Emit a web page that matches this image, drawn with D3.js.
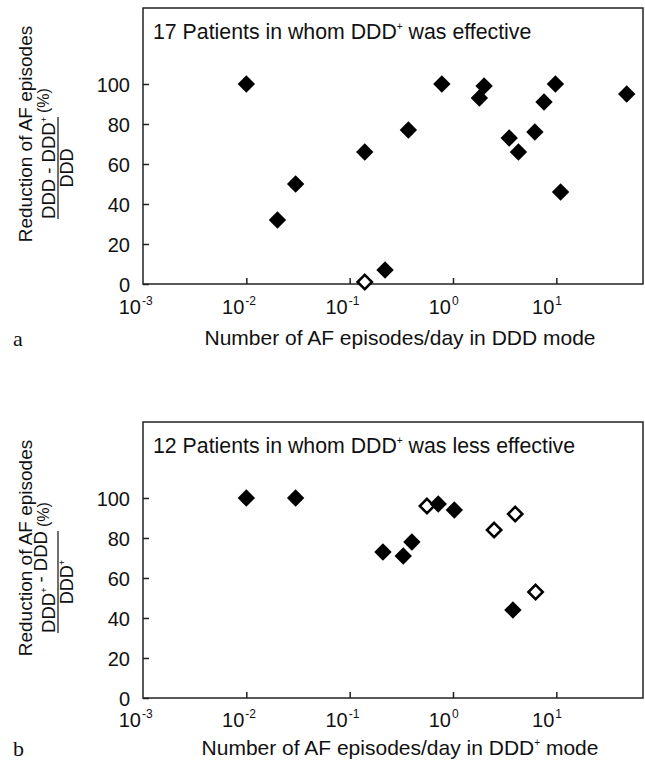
<!DOCTYPE html>
<html>
<head>
<meta charset="utf-8">
<script src="https://cdnjs.cloudflare.com/ajax/libs/d3/7.8.5/d3.min.js"></script>
<style>
  body { margin: 0; background: #fff; }
  svg text { font-family: "Liberation Sans", Arial, sans-serif; fill: #111; }
</style>
</head>
<body>
<div id="chart"></div>
<script>
// Panel a: 17 patients in whom DDD+ was effective
var effEpisodes  = [0.01, 0.02, 0.03, 0.14, 0.14, 0.22, 0.37, 0.78, 1.8, 2.0, 3.5, 4.3, 6.2, 7.6, 9.8, 11, 48];
var effReduction = [100, 32, 50, 66, 1, 7, 77, 100, 93, 99, 73, 66, 76, 91, 100, 46, 95];
var effOpen      = [0, 0, 0, 0, 1, 0, 0, 0, 0, 0, 0, 0, 0, 0, 0, 0, 0];

// Panel b: 12 patients in whom DDD+ was less effective
var lessEpisodes  = [0.01, 0.03, 0.21, 0.33, 0.40, 0.56, 0.72, 1.03, 2.5, 4.0, 3.8, 6.3];
var lessReduction = [100, 100, 73, 71, 78, 96, 97, 94, 84, 92, 44, 53];
var lessOpen      = [0, 0, 0, 0, 0, 1, 0, 0, 1, 1, 0, 1];

// Tick values
var yTicks = [0, 20, 40, 60, 80, 100];
var xTickExponents = [-3, -2, -1, 0, 1];

// SVG container
var svgWidth = 645;
var svgHeight = 767;
var plotLeft = 143;
var plotRight = 643;
var plotHeight = 276;

var svg = d3.select("#chart").append("svg")
  .attr("width", svgWidth)
  .attr("height", svgHeight);

// shared log x scale
var xScale = d3.scaleLog()
  .domain([1e-3, 69])
  .range([plotLeft, plotRight]);

function diamond(cx, cy, r) {
  return `M${cx},${cy - r}L${cx + r},${cy}L${cx},${cy + r}L${cx - r},${cy}Z`;
}

function drawPanel(p) {
  var bottom = p.top + plotHeight;
  var yScale = d3.scaleLinear()
    .domain([0, 138])
    .range([bottom, p.top]);

  var g = svg.append("g");

  // y axis, ticks pointing inward
  g.append("g")
    .attr("transform", `translate(${plotLeft},0)`)
    .call(d3.axisLeft(yScale).tickValues(yTicks).tickSize(-6).tickPadding(13).tickFormat(d3.format("d")))
    .call(a => a.select(".domain").remove())
    .attr("font-family", null)
    .attr("font-size", null)
    .call(a => a.selectAll("line").attr("stroke", "#222").attr("stroke-width", 1.5))
    .call(a => a.selectAll("text").style("font-size", "20px").attr("dy", "0.36em"));

  // x axis, ticks only
  g.append("g")
    .attr("transform", `translate(0,${bottom})`)
    .call(d3.axisBottom(xScale).tickValues(xTickExponents.slice(1).map(e => Math.pow(10, e))).tickSize(-6).tickFormat(""))
    .call(a => a.select(".domain").remove())
    .call(a => a.selectAll("line").attr("stroke", "#222").attr("stroke-width", 1.5));

  // x tick labels with superscript exponents
  xTickExponents.forEach(function(e) {
    var tx = xScale(Math.pow(10, e));
    g.append("text")
      .attr("x", tx - 2)
      .attr("y", bottom + p.tickLabelDy)
      .attr("text-anchor", "end")
      .style("font-size", "20px")
      .text("10");
    g.append("text")
      .attr("x", tx - 1)
      .attr("y", bottom + p.tickLabelDy - 9)
      .style("font-size", "12px")
      .text(e);
  });

  // frame
  g.append("rect")
    .attr("x", plotLeft)
    .attr("y", p.top)
    .attr("width", plotRight - plotLeft)
    .attr("height", plotHeight)
    .attr("fill", "none")
    .attr("stroke", "#222")
    .attr("stroke-width", 1.5);

  // panel title
  var t = g.append("text")
    .attr("x", 153)
    .attr("y", p.top + 31)
    .style("font-size", "21.3px");
  t.append("tspan").text(p.titleA);
  t.append("tspan").attr("dy", -9).style("font-size", "10px").text("+");
  t.append("tspan").attr("dy", 9).text(p.titleB);

  // points
  var pts = p.xs.map((x, i) => ({x: x, y: p.ys[i], open: p.open[i]}));
  g.selectAll("path.pt")
    .data(pts)
    .enter()
    .append("path")
    .attr("class", "pt")
    .attr("d", d => diamond(xScale(d.x), yScale(d.y), d.open ? 7.2 : 8.7))
    .attr("fill", d => d.open ? "#fff" : "#000")
    .attr("stroke", d => d.open ? "#000" : "none")
    .attr("stroke-width", 2.5);

  // y axis title, rotated
  var cy = p.top + plotHeight / 2;
  var yl = g.append("g").attr("transform", `translate(0,${cy}) rotate(-90)`);
  yl.append("text")
    .attr("x", 12)
    .attr("y", 32)
    .attr("text-anchor", "middle")
    .style("font-size", "19px")
    .text("Reduction of AF episodes");

  var num = yl.append("text")
    .attr("x", -22)
    .attr("y", 55)
    .attr("text-anchor", "middle")
    .style("font-size", "18.5px");
  p.numerator.forEach(function(s) {
    if (s === "+") {
      num.append("tspan").attr("dy", -8).style("font-size", "9px").text("+");
      num.append("tspan").attr("dy", 8).text("");
    } else {
      num.append("tspan").text(s);
    }
  });
  var len = num.node().getComputedTextLength();
  yl.append("line")
    .attr("x1", -22 - len / 2)
    .attr("x2", -22 + len / 2)
    .attr("y1", 58)
    .attr("y2", 58)
    .attr("stroke", "#222")
    .attr("stroke-width", 1.3);

  var den = yl.append("text")
    .attr("x", -22)
    .attr("y", 73)
    .attr("text-anchor", "middle")
    .style("font-size", "18px");
  den.append("tspan").text("DDD");
  if (p.denPlus) {
    den.append("tspan").attr("dy", -8).style("font-size", "9px").text("+");
  }

  yl.append("text")
    .attr("x", -22 + len / 2 + 4)
    .attr("y", 49)
    .style("font-size", "16px")
    .text("(%)");

  // x axis title and panel letter
  g.append("text")
    .attr("x", 400)
    .attr("y", p.xlabelY)
    .attr("text-anchor", "middle")
    .style("font-size", "21px")
    .call(function(tx) {
      tx.append("tspan").text("Number of AF episodes/day in DDD");
      if (p.xlabelPlus) {
        tx.append("tspan").attr("dy", -9).style("font-size", "10px").text("+");
        tx.append("tspan").attr("dy", 9).text(" mode");
      } else {
        tx.append("tspan").text(" mode");
      }
    });

  g.append("text")
    .attr("x", 13)
    .attr("y", p.xlabelY + 1)
    .style("font-family", "'Liberation Serif', 'Times New Roman', serif")
    .style("font-size", "22px")
    .text(p.letter);
}

drawPanel({
  top: 8,
  xs: effEpisodes, ys: effReduction, open: effOpen,
  titleA: "17 Patients in whom DDD", titleB: " was effective",
  numerator: ["DDD - DDD", "+"], denPlus: false,
  tickLabelDy: 30, xlabelY: 345, xlabelPlus: false, letter: "a"
});

drawPanel({
  top: 422,
  xs: lessEpisodes, ys: lessReduction, open: lessOpen,
  titleA: "12 Patients in whom DDD", titleB: " was less effective",
  numerator: ["DDD", "+", " - DDD"], denPlus: true,
  tickLabelDy: 29, xlabelY: 755, xlabelPlus: true, letter: "b"
});
</script>
</body>
</html>
